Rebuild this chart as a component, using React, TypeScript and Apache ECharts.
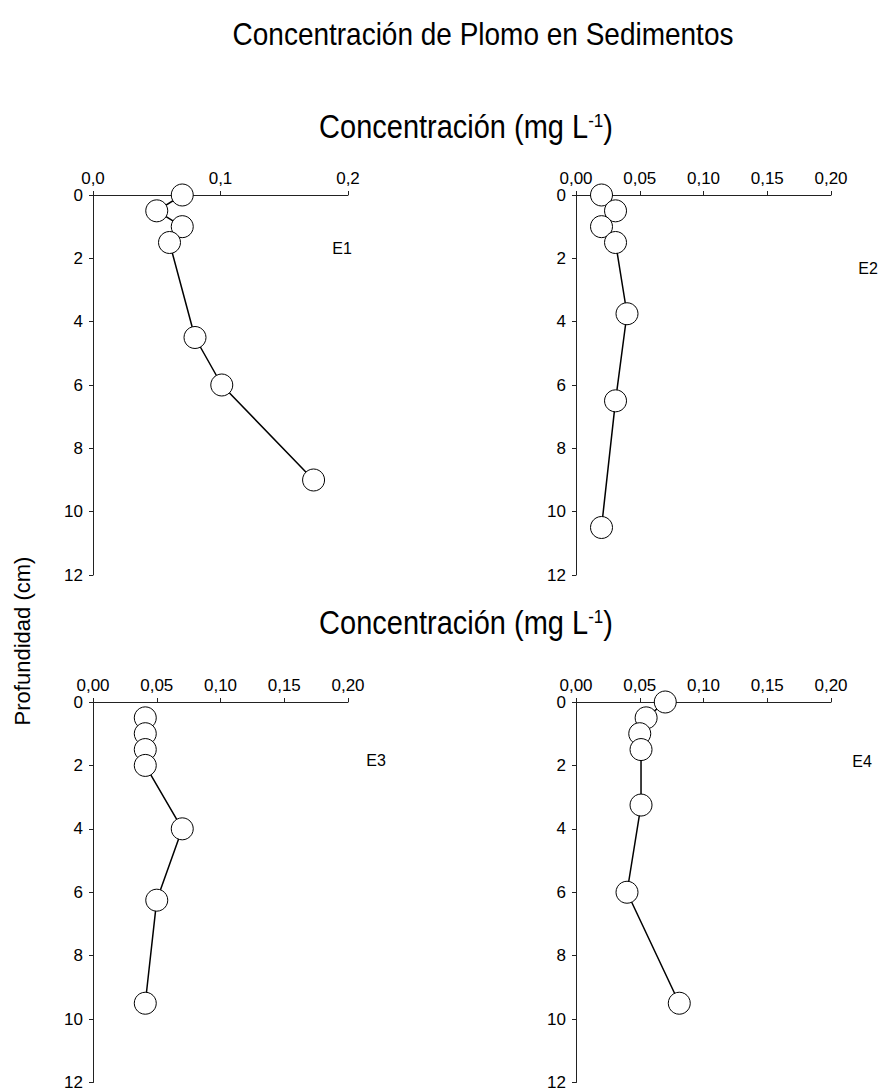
import React, { useEffect, useRef } from "react";
import * as echarts from "echarts";

// Depth profiles (cm) and lead concentration (mg/L) for each station
const stations = ["E1", "E2", "E3", "E4"];
const depthE1 = [0, 0.5, 1, 1.5, 4.5, 6, 9];
const concE1 = [0.07, 0.05, 0.07, 0.06, 0.08, 0.101, 0.173];
const depthE2 = [0, 0.5, 1, 1.5, 3.75, 6.5, 10.5];
const concE2 = [0.02, 0.031, 0.02, 0.031, 0.04, 0.031, 0.02];
const depthE3 = [0.5, 1, 1.5, 2, 4, 6.25, 9.5];
const concE3 = [0.041, 0.041, 0.041, 0.041, 0.07, 0.05, 0.041];
const depthE4 = [0, 0.5, 1, 1.5, 3.25, 6, 9.5];
const concE4 = [0.07, 0.055, 0.05, 0.051, 0.051, 0.04, 0.081];

const depths = [depthE1, depthE2, depthE3, depthE4];
const concs = [concE1, concE2, concE3, concE4];
const xIntervals = [0.1, 0.05, 0.05, 0.05];
const xDecimals = [1, 2, 2, 2];

const title = "Concentración de Plomo en Sedimentos";
const xTitle = "Concentración (mg L{sup|-1})";
const yTitle = "Profundidad (cm)";

const FONT = "'Liberation Sans', Arial, sans-serif";

export default function App() {
  const ref = useRef<HTMLDivElement>(null);

  useEffect(() => {
    if (!ref.current) return;
    const chart = echarts.init(ref.current, null, { renderer: "svg" });

    const grids = [
      { left: 93, top: 195, width: 255, height: 380 },
      { left: 576, top: 195, width: 255, height: 380 },
      { left: 93, top: 702, width: 255, height: 381 },
      { left: 576, top: 702, width: 255, height: 381 },
    ];

    const axisLine = { lineStyle: { color: "#222", width: 1 } };
    const axisTick = { length: 4, lineStyle: { color: "#222", width: 1 } };

    const xAxis = stations.map((_, i) => ({
      type: "value",
      gridIndex: i,
      position: "top",
      min: 0,
      max: 0.2,
      interval: xIntervals[i],
      axisLine: { show: true, ...axisLine },
      axisTick: { show: true, ...axisTick },
      splitLine: { show: false },
      axisLabel: {
        margin: 8,
        fontSize: 17,
        color: "#000",
        fontFamily: FONT,
        formatter: (v: number) => v.toFixed(xDecimals[i]).replace(".", ","),
      },
    }));

    const yAxis = stations.map((_, i) => ({
      type: "value",
      gridIndex: i,
      inverse: true,
      min: 0,
      max: 12,
      interval: 2,
      axisLine: { show: true, ...axisLine },
      axisTick: { show: true, ...axisTick },
      splitLine: { show: false },
      axisLabel: {
        margin: 10,
        fontSize: 17,
        color: "#000",
        fontFamily: FONT,
      },
    }));

    const series = stations.map((name, i) => ({
      name,
      type: "line",
      xAxisIndex: i,
      yAxisIndex: i,
      data: depths[i].map((d, k) => [concs[i][k], d]),
      symbol: "circle",
      symbolSize: 22,
      clip: false,
      lineStyle: { color: "#000", width: 1.5 },
      itemStyle: { color: "#fff", borderColor: "#000", borderWidth: 1 },
    }));

    const stationLabels = [
      { x: 342, y: 248 },
      { x: 868, y: 268 },
      { x: 376, y: 760 },
      { x: 862, y: 761 },
    ];

    const subStyle = {
      font: `29px ${FONT}`,
      fill: "#000",
      align: "center",
      verticalAlign: "middle",
      rich: {
        sup: { fontSize: 17, fontFamily: FONT, verticalAlign: "top" },
      },
    };

    const graphic: any[] = [
      {
        type: "text",
        x: 483,
        y: 34,
        scaleY: 1.15,
        style: {
          text: title,
          font: `28px ${FONT}`,
          fill: "#000",
          align: "center",
          verticalAlign: "middle",
        },
      },
      { type: "text", x: 466, y: 127, scaleY: 1.12, style: { text: xTitle, ...subStyle } },
      { type: "text", x: 466, y: 623, scaleY: 1.12, style: { text: xTitle, ...subStyle } },
      {
        type: "text",
        x: 22,
        y: 641,
        rotation: Math.PI / 2,
        style: {
          text: yTitle,
          font: `22px ${FONT}`,
          fill: "#000",
          align: "center",
          verticalAlign: "middle",
        },
      },
      ...stations.map((s, i) => ({
        type: "text",
        x: stationLabels[i].x,
        y: stationLabels[i].y,
        style: {
          text: s,
          font: `16px ${FONT}`,
          fill: "#000",
          align: "center",
          verticalAlign: "middle",
        },
      })),
    ];

    chart.setOption({
      animation: false,
      backgroundColor: "#fff",
      grid: grids,
      xAxis,
      yAxis,
      series,
      graphic,
    });

    return () => chart.dispose();
  }, []);

  return (
    <div
      ref={ref}
      style={{ position: "fixed", left: 0, top: 0, width: 879, height: 1091 }}
    />
  );
}
